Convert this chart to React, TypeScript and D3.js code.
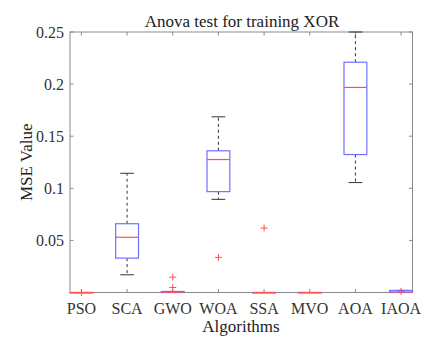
import React from "react";
import * as d3 from "d3";

const categories = ["PSO", "SCA", "GWO", "WOA", "SSA", "MVO", "AOA", "IAOA"];
const whiskerLow = [0, 0.017, 0, 0.0894, 0, 0, 0.1055, 0];
const q1 = [0, 0.033, 0, 0.0968, 0, 0, 0.1324, 0];
const medians = [0, 0.053, 0.0003, 0.1276, 0, 0, 0.1968, 0.0005];
const q3 = [0, 0.066, 0.001, 0.136, 0, 0, 0.221, 0.002];
const whiskerHigh = [0, 0.1144, 0.001, 0.1686, 0, 0, 0.25, 0.002];
const outliers: number[][] = [[0], [], [0.0147, 0.0048], [0.0337], [0.0618], [], [], [0.001]];
const yTicks = [0.05, 0.1, 0.15, 0.2, 0.25];

const W = 443, H = 345;
const M = { left: 70, right: 412.5, top: 32, bottom: 292.5 };
const FONT = "Liberation Serif";

export default function App() {
  const x = d3.scaleLinear().domain([0.75, categories.length + 0.25]).range([M.left, M.right]);
  const y = d3.scaleLinear().domain([0, 0.25]).range([M.bottom, M.top]);
  const step = x(2) - x(1);
  const bw = step * 0.5;
  const cw = step * 0.3;
  const axisColor = "#8a8a8a";
  const textColor = "#333";
  const boxColor = "#7070ff";
  const medColor = "#ff5050";

  return (
    <svg width={W} height={H} style={{ position: "absolute", left: 0, top: 0, background: "#fff", fontFamily: FONT }}>
      <rect x={0} y={0} width={W} height={H} fill="#fff" />
      <rect x={M.left} y={M.top} width={M.right - M.left} height={M.bottom - M.top} fill="none" stroke={axisColor} strokeWidth={1} />
      {yTicks.map((t) => (
        <g key={t}>
          <line x1={M.left} x2={M.left + 3.5} y1={y(t)} y2={y(t)} stroke={axisColor} />
          <line x1={M.right} x2={M.right - 3.5} y1={y(t)} y2={y(t)} stroke={axisColor} />
          <text x={M.left - 6} y={y(t)} dy="0.35em" textAnchor="end" style={{ fontFamily: FONT }} fontSize={16} fill={textColor}>
            {String(t)}
          </text>
        </g>
      ))}
      {categories.map((c, i) => (
        <g key={c}>
          <line x1={x(i + 1)} x2={x(i + 1)} y1={M.bottom} y2={M.bottom - 3.5} stroke={axisColor} />
          <line x1={x(i + 1)} x2={x(i + 1)} y1={M.top} y2={M.top + 3.5} stroke={axisColor} />
          <text x={x(i + 1)} y={314} textAnchor="middle" style={{ fontFamily: FONT }} fontSize={16} fill={textColor}>
            {c}
          </text>
        </g>
      ))}
      {categories.map((c, i) => {
        const cx = x(i + 1);
        return (
          <g key={"b" + c}>
            {whiskerHigh[i] > q3[i] && (
              <line x1={cx} x2={cx} y1={y(q3[i])} y2={y(whiskerHigh[i])} stroke="#333" strokeDasharray="3,3" />
            )}
            {whiskerLow[i] < q1[i] && (
              <line x1={cx} x2={cx} y1={y(q1[i])} y2={y(whiskerLow[i])} stroke="#333" strokeDasharray="3,3" />
            )}
            <line x1={cx - cw / 2} x2={cx + cw / 2} y1={y(whiskerHigh[i])} y2={y(whiskerHigh[i])} stroke="#333" />
            <line x1={cx - cw / 2} x2={cx + cw / 2} y1={y(whiskerLow[i])} y2={y(whiskerLow[i])} stroke="#333" />
            <rect x={cx - bw / 2} y={y(q3[i])} width={bw} height={Math.max(0.5, y(q1[i]) - y(q3[i]))} fill="none" stroke={boxColor} strokeWidth={1.2} />
            <line x1={cx - bw / 2} x2={cx + bw / 2} y1={y(medians[i])} y2={y(medians[i])} stroke={medColor} strokeWidth={1.2} />
            {outliers[i].map((o, j) => (
              <g key={j} stroke={medColor} strokeWidth={1}>
                <line x1={cx - 3.5} x2={cx + 3.5} y1={y(o)} y2={y(o)} />
                <line x1={cx} x2={cx} y1={y(o) - 3.5} y2={y(o) + 3.5} />
              </g>
            ))}
          </g>
        );
      })}
      <text x={242} y={27} textAnchor="middle" style={{ fontFamily: FONT }} fontSize={17} fill="#222">
        Anova test for training XOR
      </text>
      <text x={241} y={332} textAnchor="middle" style={{ fontFamily: FONT }} fontSize={17} fill="#222">
        Algorithms
      </text>
      <text transform={`translate(32,${(M.top + M.bottom) / 2}) rotate(-90)`} textAnchor="middle" style={{ fontFamily: FONT }} fontSize={17} fill="#222">
        MSE Value
      </text>
    </svg>
  );
}
